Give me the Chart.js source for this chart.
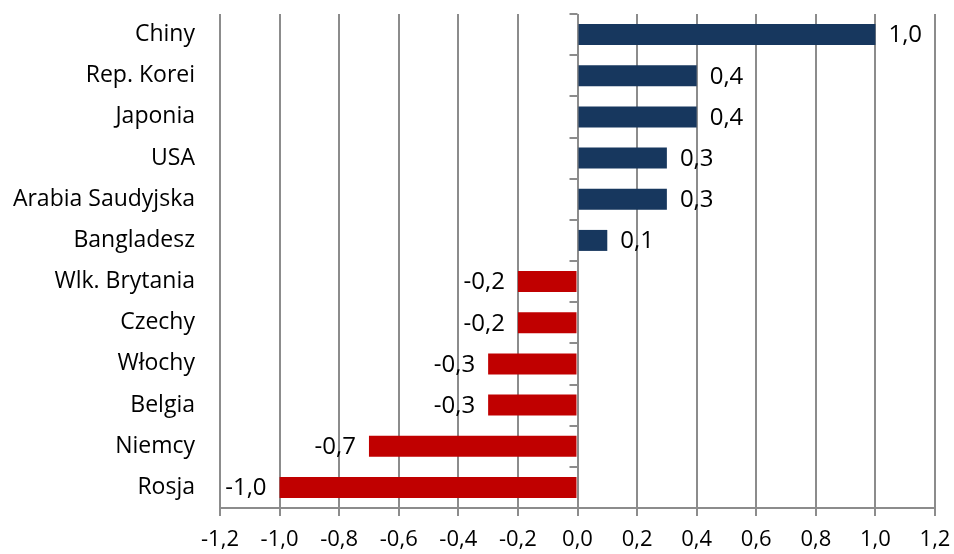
<!DOCTYPE html>
<html>
<head>
<meta charset="utf-8">
<script src="https://cdn.jsdelivr.net/npm/chart.js@4"></script>
<style>
  html, body { margin: 0; padding: 0; background: #fff; }
  #wrap { width: 954px; height: 554px; }
</style>
</head>
<body>
<div id="wrap"><canvas id="chart" width="954" height="554"></canvas></div>
<script>
// kraje i zmiany (pkt proc.)
const countries = ['Chiny', 'Rep. Korei', 'Japonia', 'USA', 'Arabia Saudyjska', 'Bangladesz',
  'Wlk. Brytania', 'Czechy', 'Włochy', 'Belgia', 'Niemcy', 'Rosja'];
const values = [1.0, 0.4, 0.4, 0.3, 0.3, 0.1, -0.2, -0.2, -0.3, -0.3, -0.7, -1.0];
const xTicks = [-1.2, -1.0, -0.8, -0.6, -0.4, -0.2, 0.0, 0.2, 0.4, 0.6, 0.8, 1.0, 1.2];

const NAVY = '#17375E';
const RED = '#C00000';
const GRID = '#8C8C8C';
const FONT = '"Open Sans", sans-serif';

const fmt = v => v.toFixed(1).replace('.', ',');

// etykiety wartości przy końcach słupków
const valueLabels = {
  id: 'valueLabels',
  afterDatasetsDraw(chart) {
    const ctx = chart.ctx;
    const meta = chart.getDatasetMeta(0);
    ctx.save();
    ctx.font = '24px ' + FONT;
    ctx.fillStyle = '#000';
    ctx.textBaseline = 'middle';
    meta.data.forEach((bar, i) => {
      const v = values[i];
      if (v >= 0) {
        ctx.textAlign = 'left';
        ctx.fillText(fmt(v), bar.x + 13, bar.y + 1);
      } else {
        ctx.textAlign = 'right';
        ctx.fillText(fmt(v), bar.x - 13, bar.y + 1);
      }
    });
    ctx.restore();
  }
};

// znaczniki osi kategorii przy zerze
const zeroAxisTicks = {
  id: 'zeroAxisTicks',
  afterDraw(chart) {
    const ctx = chart.ctx;
    const x0 = chart.scales.x.getPixelForValue(0);
    const y = chart.scales.y;
    const step = (y.bottom - y.top) / countries.length;
    ctx.save();
    ctx.strokeStyle = GRID;
    ctx.lineWidth = 2;
    for (let i = 0; i <= countries.length; i++) {
      const py = Math.round(y.top + i * step);
      ctx.beginPath();
      ctx.moveTo(x0 - 8, py);
      ctx.lineTo(x0, py);
      ctx.stroke();
    }
    ctx.restore();
  }
};

new Chart(document.getElementById('chart'), {
  type: 'bar',
  data: {
    labels: countries,
    datasets: [{
      data: values,
      backgroundColor: values.map(v => v >= 0 ? NAVY : RED),
      barPercentage: 0.51,
      categoryPercentage: 1.0
    }]
  },
  options: {
    indexAxis: 'y',
    responsive: false,
    animation: false,
    layout: { padding: { top: 14, right: 19, left: 0, bottom: 0 } },
    plugins: {
      legend: { display: false },
      tooltip: { enabled: false }
    },
    scales: {
      x: {
        min: -1.2,
        max: 1.2,
        afterBuildTicks: scale => { scale.ticks = xTicks.map(v => ({ value: v })); },
        afterFit: scale => { scale.height = 46; scale.paddingLeft = 0; scale.paddingRight = 0; },
        grid: {
          color: GRID,
          lineWidth: 2,
          drawTicks: true,
          tickLength: 8
        },
        border: { color: GRID, width: 2 },
        ticks: {
          color: '#000',
          font: { family: FONT, size: 22 },
          padding: 11,
          maxRotation: 0,
          callback: v => fmt(v)
        }
      },
      y: {
        afterFit: scale => { scale.width = 220; scale.paddingTop = 0; scale.paddingBottom = 0; },
        grid: { display: false },
        border: { display: false },
        ticks: {
          color: '#000',
          font: { family: FONT, size: 23 },
          padding: 17
        }
      }
    }
  },
  plugins: [valueLabels, zeroAxisTicks]
});
</script>
</body>
</html>
